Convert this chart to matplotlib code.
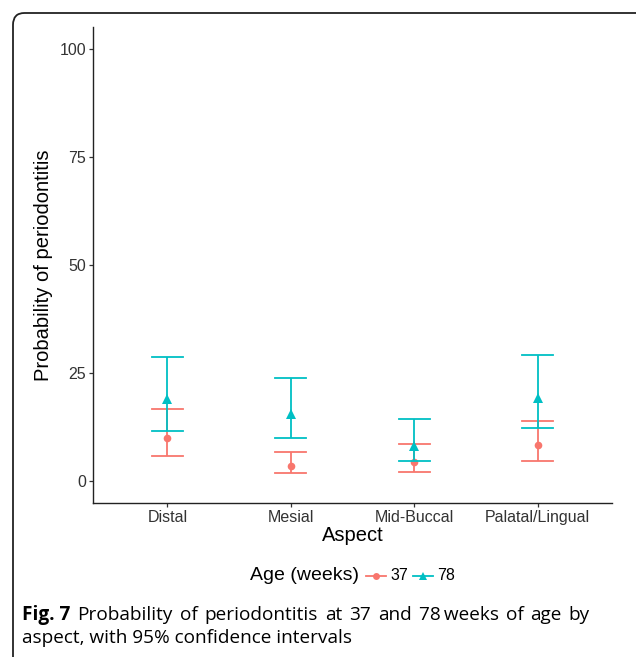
import matplotlib
matplotlib.use("Agg")
import matplotlib.pyplot as plt
from matplotlib.patches import FancyBboxPatch
from matplotlib.lines import Line2D
import numpy as np

plt.rcParams['font.family'] = ['Liberation Sans', 'DejaVu Sans']

# ---- data ----
aspects = ["Distal", "Mesial", "Mid-Buccal", "Palatal/Lingual"]
ages = ["37", "78"]
est_37 = [9.9, 3.5, 4.3, 8.3]
lo_37 = [5.7, 1.9, 2.0, 4.7]
hi_37 = [16.7, 6.8, 8.5, 14.0]
est_78 = [18.9, 15.6, 8.2, 19.3]
lo_78 = [11.5, 9.9, 4.6, 12.3]
hi_78 = [28.6, 23.8, 14.4, 29.2]
yticks = [0, 25, 50, 75, 100]

colors = {"37": "#F8766D", "78": "#00BFC4"}
markers = {"37": "o", "78": "^"}

W, H = 636, 657
fig = plt.figure(figsize=(W / 100, H / 100), dpi=100)

def fx(px):
    return px / W

def fy(py):
    return 1 - py / H

# frame
frame = FancyBboxPatch((fx(13), -0.05), 1.2, (H - 13) / H + 0.05,
                       boxstyle="round,pad=0,rounding_size=0.018",
                       transform=fig.transFigure, fill=False,
                       edgecolor="#222222", linewidth=1.3, clip_on=False)
fig.patches.append(frame)

ax = fig.add_axes([fx(93.3), fy(502.7), (611.7 - 93.3) / W, (502.7 - 27) / H])
x = np.arange(1, len(aspects) + 1)
capw = 0.125

series = [("37", est_37, lo_37, hi_37), ("78", est_78, lo_78, hi_78)]
for age, est, lo, hi in series:
    c = colors[age]
    for xi, e, l, h in zip(x, est, lo, hi):
        ax.plot([xi, xi], [l, h], color=c, lw=1.3, solid_capstyle='butt')
        ax.plot([xi - capw, xi + capw], [l, l], color=c, lw=1.3)
        ax.plot([xi - capw, xi + capw], [h, h], color=c, lw=1.3)
    ax.plot(x, est, linestyle='none', marker=markers[age], color=c,
            markersize=5.5 if age == "37" else 6.5, markeredgewidth=0)

ax.set_xlim(0.4, 4.6)
ax.set_ylim(-5, 105)
ax.set_xticks(x)
ax.set_xticklabels(aspects)
ax.set_yticks(yticks)
ax.set_yticklabels([str(t) for t in yticks])
ax.tick_params(axis='both', labelsize=11.5, labelcolor="#333333", color="#333333",
               length=3, width=0.9, pad=2)
for s in ["top", "right"]:
    ax.spines[s].set_visible(False)
for s in ["left", "bottom"]:
    ax.spines[s].set_linewidth(1.0)
    ax.spines[s].set_color("#222222")
ax.set_xlabel("Aspect", fontsize=14.5, labelpad=1)
ax.set_ylabel("Probability of periodontitis", fontsize=14.5, labelpad=5)

# legend (manual, inline title)
ly = fy(576)
fig.text(fx(250), ly, "Age (weeks)", fontsize=14, va='center', ha='left')
leg_items = [("37", 366, 390), ("78", 413, 437)]
for age, x0, tx in leg_items:
    c = colors[age]
    fig.add_artist(Line2D([fx(x0), fx(x0 + 20)], [ly, ly], color=c, lw=1.3,
                          transform=fig.transFigure))
    fig.add_artist(Line2D([fx(x0 + 10)], [ly], color=c, marker=markers[age],
                          markersize=5 if age == "37" else 6, markeredgewidth=0,
                          transform=fig.transFigure))
    fig.text(fx(tx), ly, age, fontsize=11.5, va='center', ha='left')

# caption (first line justified)
cap_font = ['Open Sans', 'DejaVu Sans']
cap_size = 13.7
renderer = fig.canvas.get_renderer()
words = ["Fig. 7", "Probability", "of", "periodontitis", "at", "37", "and",
         "78\u2009weeks", "of", "age", "by"]
arts = []
for i, w in enumerate(words):
    t = fig.text(0, fy(620), w, fontsize=cap_size, family=cap_font,
                 fontweight='bold' if i == 0 else 'normal',
                 va='baseline', ha='left')
    arts.append(t)
widths = [a.get_window_extent(renderer=renderer).width for a in arts]
x_start, x_end = 22.0, 590.0
gap = (x_end - x_start - sum(widths)) / (len(words) - 1)
cur = x_start
for a, wdt in zip(arts, widths):
    a.set_x(fx(cur))
    cur += wdt + gap
fig.text(fx(22), fy(643), "aspect, with 95% confidence intervals",
         fontsize=cap_size, family=cap_font, va='baseline', ha='left')

fig.savefig("out.png", dpi=100)
